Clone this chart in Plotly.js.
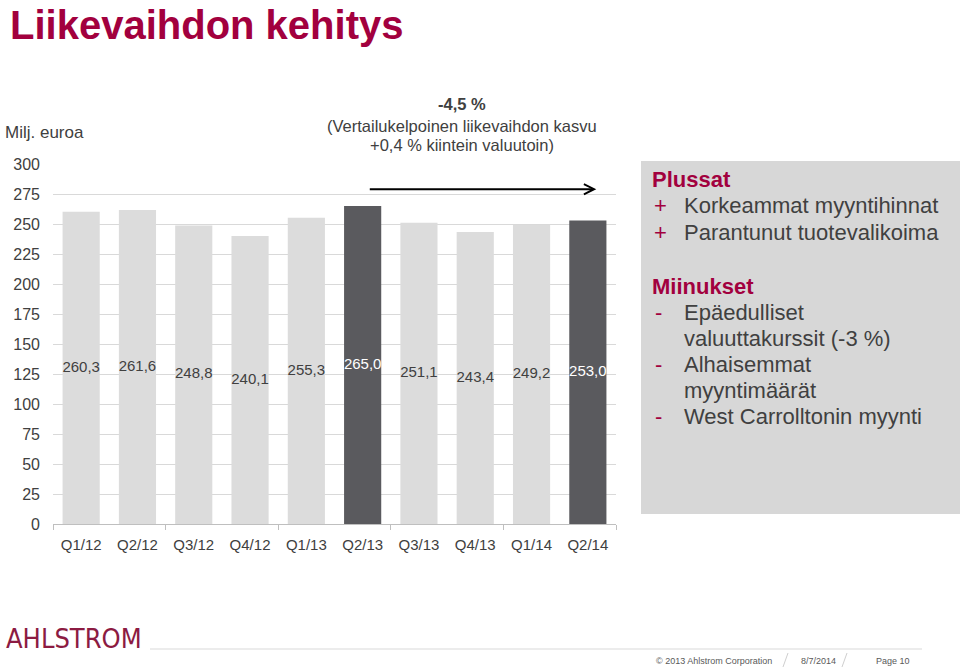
<!DOCTYPE html>
<html>
<head>
<meta charset="utf-8">
<script src="https://cdn.plot.ly/plotly-3.0.1.min.js"></script>
<style>
  html, body { margin: 0; padding: 0; background: #fff; }
  #chart { width: 960px; height: 668px; }
</style>
</head>
<body>
<div id="chart"></div>
<script>
// ---- data ----
const quarters = ['Q1/12','Q2/12','Q3/12','Q4/12','Q1/13','Q2/13','Q3/13','Q4/13','Q1/14','Q2/14'];
const revenue = [260.3, 261.6, 248.8, 240.1, 255.3, 265.0, 251.1, 243.4, 249.2, 253.0];
const highlighted = ['Q2/13', 'Q2/14'];
const yTicks = [0, 25, 50, 75, 100, 125, 150, 175, 200, 225, 250, 275, 300];
const pluses = ['Korkeammat myyntihinnat', 'Parantunut tuotevalikoima'];
const minuses = [['Epäedulliset', 'valuuttakurssit (-3 %)'], ['Alhaisemmat', 'myyntimäärät'], ['West Carrolltonin myynti']];

// ---- styling ----
const FONT = '"Liberation Sans", Arial, Helvetica, sans-serif';
const CRIMSON = '#a2003e';
const TXT = '#404040';
const LIGHT = '#dcdcdc';
const DARK = '#5a5a5e';

const L = 53, R = 616, T = 164, B = 524;
const W = 960, H = 668;
const X = px => (px - L) / (R - L);
const Y = py => (B - py) / (B - T);

const isHi = quarters.map(q => highlighted.includes(q));
const fmt = v => v.toFixed(1).replace('.', ',');

const bars = {
  type: 'bar',
  x: quarters,
  y: revenue,
  marker: { color: isHi.map(h => h ? DARK : LIGHT), line: { width: 0 } },
  width: 0.66,
  hoverinfo: 'skip',
  showlegend: false
};

const labels = {
  type: 'scatter',
  mode: 'text',
  xaxis: 'x2',
  x: quarters.map((q, i) => i),
  y: revenue.map(v => v / 2),
  text: revenue.map(fmt),
  textposition: 'middle center',
  textfont: { family: FONT, size: 15, color: isHi.map(h => h ? '#ffffff' : TXT) },
  hoverinfo: 'skip',
  showlegend: false
};

const annotations = [];
const shapes = [];

// Title
annotations.push({ xref: 'paper', yref: 'paper', x: X(8), y: Y(1), xanchor: 'left', yanchor: 'top',
  text: '<b>Liikevaihdon kehitys</b>', showarrow: false, font: { family: FONT, size: 40, color: CRIMSON } });
// Unit
annotations.push({ xref: 'paper', yref: 'paper', x: X(3), y: Y(132), xanchor: 'left', yanchor: 'middle',
  text: 'Milj. euroa', showarrow: false, font: { family: FONT, size: 17, color: TXT } });
// Top comment
const cFont = { family: FONT, size: 16.5, color: TXT };
annotations.push({ xref: 'paper', yref: 'paper', x: X(462), y: Y(104), xanchor: 'center', yanchor: 'middle',
  text: '<b>-4,5 %</b>', showarrow: false, font: cFont });
annotations.push({ xref: 'paper', yref: 'paper', x: X(462), y: Y(126), xanchor: 'center', yanchor: 'middle',
  text: '(Vertailukelpoinen liikevaihdon kasvu', showarrow: false, font: cFont });
annotations.push({ xref: 'paper', yref: 'paper', x: X(462), y: Y(145), xanchor: 'center', yanchor: 'middle',
  text: '+0,4 % kiintein valuutoin)', showarrow: false, font: cFont });
// Arrow (from Q2/13 to Q2/14)
annotations.push({ xref: 'x2', yref: 'y', x: 9.15, y: 279, axref: 'x2', ayref: 'y', ax: 5.1, ay: 279,
  text: '', showarrow: true, arrowhead: 5, arrowsize: 1, arrowwidth: 2, arrowcolor: '#000000' });

// Right panel
shapes.push({ type: 'rect', xref: 'paper', yref: 'paper', x0: X(641), x1: X(960), y0: Y(514), y1: Y(161),
  fillcolor: '#d7d7d7', line: { width: 0 }, layer: 'below' });

const panelFont = { family: FONT, size: 22, color: TXT };
const headFont = { family: FONT, size: 22, color: CRIMSON };
const addPanelText = (px, py, text, font) => annotations.push({ xref: 'paper', yref: 'paper', x: X(px), y: Y(py),
  xanchor: 'left', yanchor: 'middle', text, showarrow: false, font });

let py = 179;
addPanelText(650, py, '<b>Plussat</b>', headFont);
pluses.forEach(t => { py += 26.5; addPanelText(652, py, '+', headFont); addPanelText(682, py, t, panelFont); });
py = 286;
addPanelText(650, py, '<b>Miinukset</b>', headFont);
minuses.forEach(lines => {
  lines.forEach((t, j) => {
    py += 26.2;
    if (j === 0) addPanelText(653, py, '-', headFont);
    addPanelText(682, py, t, panelFont);
  });
});

// Footer
annotations.push({ xref: 'paper', yref: 'paper', x: X(4), y: Y(638), xanchor: 'left', yanchor: 'middle',
  text: 'AHLSTROM', showarrow: false,
  font: { family: '"Liberation Sans Narrow", "DejaVu Sans Condensed", "Liberation Sans", sans-serif', size: 27, color: '#8c1b42' } });
shapes.push({ type: 'line', xref: 'paper', yref: 'paper', x0: X(150), x1: X(922), y0: Y(649), y1: Y(649),
  line: { color: '#d9d9d9', width: 1 } });
const footFont = { family: FONT, size: 9, color: '#595959' };
annotations.push({ xref: 'paper', yref: 'paper', x: X(714), y: Y(661), xanchor: 'center', yanchor: 'middle',
  text: '© 2013 Ahlstrom Corporation', showarrow: false, font: footFont });
annotations.push({ xref: 'paper', yref: 'paper', x: X(818), y: Y(661), xanchor: 'center', yanchor: 'middle',
  text: '8/7/2014', showarrow: false, font: footFont });
annotations.push({ xref: 'paper', yref: 'paper', x: X(893), y: Y(661), xanchor: 'center', yanchor: 'middle',
  text: 'Page 10', showarrow: false, font: footFont });
[[783, 788], [842, 847]].forEach(([a, b]) => shapes.push({ type: 'line', xref: 'paper', yref: 'paper',
  x0: X(a), x1: X(b), y0: Y(667), y1: Y(653), line: { color: '#cfcfcf', width: 1 } }));

const layout = {
  width: W, height: H,
  margin: { l: L, r: W - R, t: T, b: H - B, pad: 0 },
  paper_bgcolor: '#ffffff', plot_bgcolor: '#ffffff',
  showlegend: false,
  bargap: 0.34,
  font: { family: FONT, color: TXT },
  xaxis: {
    type: 'category', categoryorder: 'array', categoryarray: quarters,
    range: [-0.5, 9.5], fixedrange: true,
    showgrid: false, zeroline: false,
    showline: true, linecolor: '#bfbfbf', linewidth: 1,
    ticks: '', ticklabelstandoff: 7,
    tickfont: { family: FONT, size: 15, color: TXT }
  },
  xaxis2: {
    overlaying: 'x', anchor: 'y', side: 'bottom', range: [-0.5, 9.5],
    tickmode: 'array', tickvals: [-0.5, 1.5, 3.5, 5.5, 7.5, 9.5],
    ticks: 'outside', ticklen: 5, tickcolor: '#bfbfbf', tickwidth: 1,
    showticklabels: false, showgrid: false, zeroline: false, showline: false, fixedrange: true
  },
  yaxis: {
    range: [0, 300], tickmode: 'array', tickvals: yTicks, ticktext: yTicks.map(String),
    showgrid: true, gridcolor: '#d9d9d9', gridwidth: 1,
    zeroline: false, showline: false, ticks: '', ticklabelstandoff: 12,
    tickfont: { family: FONT, size: 16, color: TXT }, fixedrange: true
  },
  annotations, shapes
};

Plotly.newPlot('chart', [bars, labels], layout, { displayModeBar: false, staticPlot: true });
</script>
</body>
</html>
